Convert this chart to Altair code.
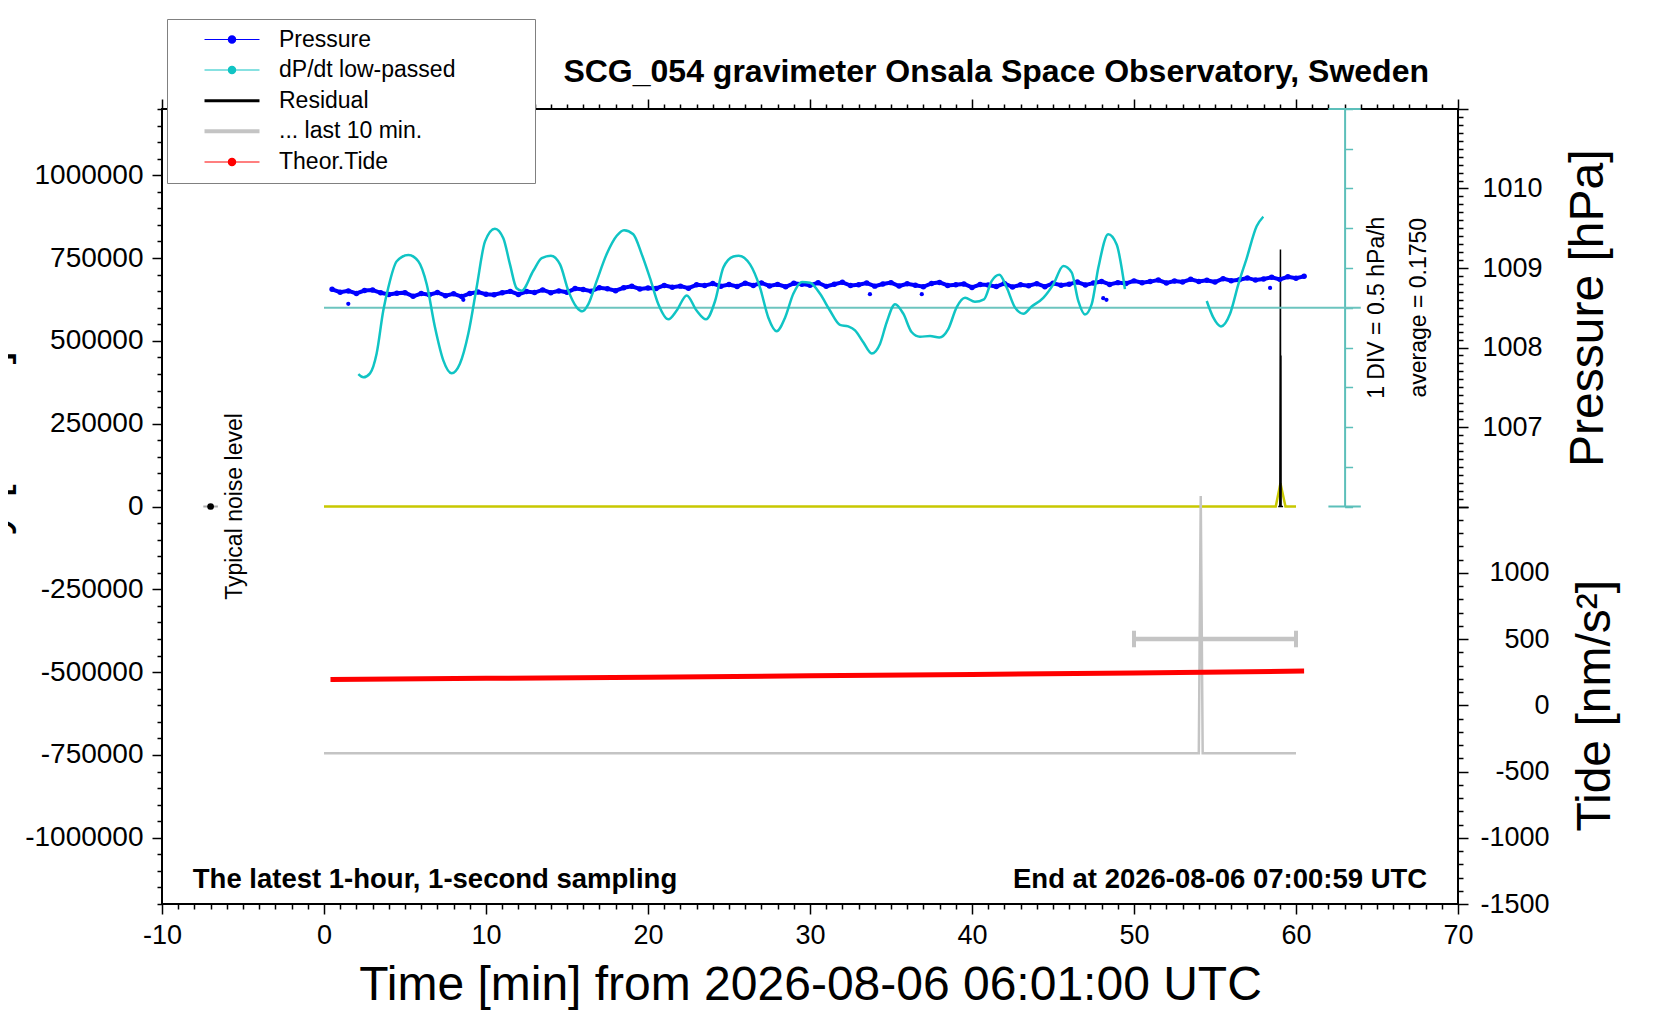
import altair as alt
import pandas as pd

# ---- data (time in minutes from 2026-08-06 06:01:00 UTC) ----
pressure_hpa = [
    1008.732, 1008.695, 1008.712, 1008.680, 1008.716, 1008.722, 1008.688, 1008.668, 1008.682, 1008.690,
    1008.644, 1008.678, 1008.665, 1008.692, 1008.652, 1008.675, 1008.641, 1008.680, 1008.698, 1008.671,
    1008.664, 1008.688, 1008.706, 1008.668, 1008.703, 1008.691, 1008.724, 1008.690, 1008.712, 1008.694,
    1008.741, 1008.729, 1008.708, 1008.752, 1008.738, 1008.715, 1008.751, 1008.770, 1008.736, 1008.748,
    1008.743, 1008.781, 1008.757, 1008.772, 1008.746, 1008.788, 1008.779, 1008.805, 1008.770, 1008.793,
    1008.767, 1008.809, 1008.780, 1008.812, 1008.775, 1008.794, 1008.764, 1008.807, 1008.797, 1008.783,
    1008.814, 1008.769, 1008.796, 1008.820, 1008.780, 1008.789, 1008.810, 1008.772, 1008.799, 1008.816,
    1008.773, 1008.801, 1008.784, 1008.764, 1008.806, 1008.819, 1008.781, 1008.789, 1008.800, 1008.756,
    1008.792, 1008.785, 1008.766, 1008.806, 1008.761, 1008.788, 1008.776, 1008.803, 1008.765, 1008.807,
    1008.784, 1008.797, 1008.823, 1008.787, 1008.810, 1008.831, 1008.793, 1008.816, 1008.806, 1008.838,
    1008.815, 1008.829, 1008.849, 1008.812, 1008.837, 1008.825, 1008.858, 1008.831, 1008.846, 1008.823,
    1008.866, 1008.840, 1008.853, 1008.875, 1008.848, 1008.862, 1008.884, 1008.857, 1008.890, 1008.872,
    1008.895,
]
pressure_t = [0.5 + 0.5 * i for i in range(len(pressure_hpa))]
outlier_t = [1.5, 8.6, 33.7, 36.9, 48.1, 48.3, 58.4]
outlier_hpa = [1008.55, 1008.60, 1008.67, 1008.67, 1008.62, 1008.60, 1008.75]

dpdt_t = [2.12, 2.43, 2.84, 3.25, 3.66, 3.97, 4.49, 5.21, 5.82, 6.34, 6.85, 7.37, 7.88, 8.39,
          8.91, 9.42, 9.94, 10.55, 11.07, 11.48, 11.89, 12.2, 12.92, 13.44, 14.01, 14.57, 15.08,
          15.6, 15.95, 16.32, 16.83, 17.45, 18.07, 18.52, 19.09, 19.61, 20.12, 20.64, 21.26,
          21.77, 22.39, 23.0, 23.58, 24.14, 24.65, 25.27, 25.6, 26.3, 26.91, 27.43, 27.94, 28.46,
          28.97, 29.5, 30.0, 30.62, 31.23, 31.85, 32.36, 32.78, 33.29, 33.81, 34.32, 34.73, 35.25,
          35.76, 36.27, 36.79, 37.41, 37.98, 38.54, 39.05, 39.57, 40.18, 40.74, 41.21, 41.69,
          42.14, 42.65, 43.17, 43.68, 44.4, 45.02, 45.64, 46.15, 46.56, 46.97, 47.39, 47.8, 48.41,
          48.93, 49.44,
          54.49, 54.9, 55.37, 55.93, 56.44, 56.96, 57.57, 57.98]
dpdt_val = [-0.66, -0.70, -0.65, -0.40, 0.14, 0.43, 0.76, 0.84, 0.76, 0.47, -0.07, -0.49, -0.65, -0.53,
            -0.15, 0.43, 1.01, 1.17, 1.05, 0.72, 0.42, 0.39, 0.64, 0.80, 0.83, 0.72, 0.39,
            0.18, 0.13, 0.22, 0.51, 0.85, 1.08, 1.15, 1.10, 0.85, 0.55, 0.22, 0.03,
            0.14, 0.33, 0.14, 0.03, 0.26, 0.68, 0.82, 0.83, 0.72, 0.43, 0.05, -0.12, 0.05,
            0.35, 0.50, 0.49, 0.35, 0.14, -0.04, -0.06, -0.11, -0.26, -0.40, -0.28, -0.01, 0.22,
            0.10, -0.13, -0.19, -0.18, -0.20, -0.09, 0.18, 0.30, 0.25, 0.28, 0.51, 0.59,
            0.43, 0.18, 0.10, 0.19, 0.30, 0.47, 0.70, 0.62, 0.26, 0.09, 0.22, 0.68, 1.10,
            0.97, 0.41,
            0.26, 0.05, -0.06, 0.10, 0.47, 0.80, 1.20, 1.32]
dpdt_seg = ["a"] * 92 + ["b"] * 8
dpdt_avg = 0.175
dpdt_div = 0.5

resid_t = [58.9, 59.0, 59.04, 59.05, 59.07, 59.08, 59.2]
resid_val = [0, 0, 776000, 0, 456000, 0, 0]

filt_t = [0.0, 58.75, 59.04, 59.35, 60.0]
filt_val = [0, 0, 70000, 0, 0]

last10_t = [0.0, 54.0, 54.12, 54.24, 60.0]
last10_val = [-745000, -745000, 32000, -745000, -745000]
window_t = [50, 60]
window_level = -400000

tide_t = [0.4, 10, 20, 30, 40, 50, 60.5]
tide_val = [195, 203, 212, 222, 232, 244, 258]

noise_t = -7
noise_val = 0

legend_names = ["Pressure", "dP/dt low-passed", "Residual", "... last 10 min.", "Theor.Tide"]
legend_colors = ["#0000ff", "#10c4c4", "#000000", "#c4c4c4", "#ff0000"]

# ---- layout ----
W, H = 1296, 795
HALF = H / 2
FONT = "Liberation Sans"
TEAL = "#5cbfba"
GREY = "#c4c4c4"

xs = alt.Scale(domain=[-10, 70], nice=False, zero=False)
left_s = alt.Scale(domain=[-1200000, 1200000], nice=False, zero=False)
pres_s = alt.Scale(domain=[1006, 1011], range=[HALF, 0], nice=False, zero=False)
tide_s = alt.Scale(domain=[-1500, 1500], range=[H, HALF], nice=False, zero=False)
dp_lo = dpdt_avg - 5 * dpdt_div
dp_hi = dpdt_avg + 5 * dpdt_div
dp_s = alt.Scale(domain=[dp_lo, dp_hi], range=[HALF, 0], nice=False, zero=False)


def ticks(test):
    return {"condition": {"test": test, "value": 10}, "value": 5}


def X(field, axis=None):
    return alt.X(field, type="quantitative", scale=xs, axis=axis)


def Y(field, scale, axis=None):
    return alt.Y(field, type="quantitative", scale=scale, axis=axis)


x_bottom = alt.Axis(
    orient="bottom", values=list(range(-10, 71)), tickSize=ticks("datum.value % 10 === 0"),
    labelExpr="datum.value % 10 === 0 ? toString(datum.value) : ''",
    labelPadding=8, title="Time [min] from 2026-08-06 06:01:00 UTC", titlePadding=13,
)
x_top = alt.Axis(orient="top", values=list(range(-10, 71)), tickSize=ticks("datum.value % 10 === 0"),
                 labels=False, title=None)
left_axis = alt.Axis(
    orient="left", values=list(range(-1200000, 1200001, 50000)),
    tickSize=ticks("datum.value % 250000 === 0"),
    labelExpr="datum.value % 250000 === 0 ? toString(datum.value) : ''",
    labelPadding=9, labelFontSize=28, title="Gravity [nm/s²]", titleAngle=270, titlePadding=9,
)
pres_axis = alt.Axis(
    orient="right", values=[round(1006 + 0.1 * i, 1) for i in range(51)],
    tickSize=ticks("abs(datum.value - round(datum.value)) < 0.01"),
    labelExpr="abs(datum.value - round(datum.value)) < 0.01 && datum.value > 1006.5 && datum.value < 1010.5"
              " ? toString(round(datum.value)) : ''",
    labelAlign="right", labelPadding=74, title="Pressure [hPa]", titleAngle=270,
    titleBaseline="top", titlePadding=22,
)
tide_axis = alt.Axis(
    orient="right", values=list(range(-1500, 1501, 100)),
    tickSize=ticks("datum.value % 500 === 0"),
    labelExpr="datum.value % 500 === 0 && datum.value < 1500 ? toString(datum.value) : ''",
    labelAlign="right", labelPadding=81, title="Tide [nm/s²]", titleAngle=270,
    titleBaseline="top", titlePadding=22,
)
dp_axis = alt.Axis(
    orient="right", offset=-(W - 73 * W / 80), values=[round(dp_lo + k * dpdt_div, 3) for k in range(11)],
    labels=False, title=None, domain=True, domainColor=TEAL, domainWidth=2,
    tickColor=TEAL, tickSize=8, tickWidth=1.5,
)

# ---- gravity-scale marks ----
filt_df = pd.DataFrame({"t": filt_t, "v": filt_val})
resid_df = pd.DataFrame({"t": resid_t, "v": resid_val})
last10_df = pd.DataFrame({"t": last10_t, "v": last10_val})
window_df = pd.DataFrame({"t0": [window_t[0]], "t1": [window_t[1]], "v": [window_level]})
cap_df = pd.DataFrame({"t": window_t, "v0": [window_level - 25000] * 2, "v1": [window_level + 25000] * 2})
noise_df = pd.DataFrame({"t": [noise_t], "t0": [noise_t - 0.45], "t1": [noise_t + 0.45], "v": [noise_val],
                         "tx": [noise_t + 1.5], "label": ["Typical noise level"]})
foot_df = pd.DataFrame({"t": [-8.1, 68.1], "v": [-1127600, -1127600],
                        "label": ["The latest 1-hour, 1-second sampling", "End at 2026-08-06 07:00:59 UTC"]})

filt_line = alt.Chart(filt_df).mark_line(color="#c8c800", strokeWidth=2.5).encode(
    x=X("t", x_bottom), y=Y("v", left_s, left_axis))
resid_line = alt.Chart(resid_df).mark_line(color="black", strokeWidth=1.5).encode(
    x=X("t"), y=Y("v", left_s))
last10_line = alt.Chart(last10_df).mark_line(color=GREY, strokeWidth=2.5).encode(
    x=X("t"), y=Y("v", left_s))
window_bar = alt.Chart(window_df).mark_rule(color=GREY, strokeWidth=4.5).encode(
    x=X("t0"), x2="t1", y=Y("v", left_s))
window_caps = alt.Chart(cap_df).mark_rule(color=GREY, strokeWidth=4).encode(
    x=X("t"), y=Y("v0", left_s), y2="v1")
noise_bar = alt.Chart(noise_df).mark_rule(color="#aaaaaa", strokeWidth=2).encode(
    x=X("t0"), x2="t1", y=Y("v", left_s))
noise_dot = alt.Chart(noise_df).mark_circle(color="black", size=45, opacity=1).encode(
    x=X("t"), y=Y("v", left_s))
noise_text = alt.Chart(noise_df).mark_text(angle=270, fontSize=23, align="center", baseline="middle").encode(
    x=X("tx"), y=Y("v", left_s), text="label:N")
foot_left = alt.Chart(foot_df.iloc[[0]]).mark_text(
    fontSize=27.5, fontWeight="bold", align="left", baseline="middle").encode(
    x=X("t"), y=Y("v", left_s), text="label:N")
foot_right = alt.Chart(foot_df.iloc[[1]]).mark_text(
    fontSize=27.5, fontWeight="bold", align="right", baseline="middle").encode(
    x=X("t"), y=Y("v", left_s), text="label:N")

# ---- pressure ----
pres_df = pd.DataFrame({"t": pressure_t, "p": pressure_hpa})
out_df = pd.DataFrame({"t": outlier_t, "p": outlier_hpa})
pres_line = alt.Chart(pres_df).mark_line(color="#0000ff", strokeWidth=4).encode(
    x=X("t"), y=Y("p", pres_s, pres_axis))
pres_pts = alt.Chart(pres_df).mark_circle(color="#0000ff", size=30, opacity=1).encode(
    x=X("t"), y=Y("p", pres_s))
pres_out = alt.Chart(out_df).mark_circle(color="#0000ff", size=18, opacity=1).encode(
    x=X("t"), y=Y("p", pres_s))

# ---- dP/dt ----
dp_df = pd.DataFrame({"t": dpdt_t, "v": dpdt_val, "seg": dpdt_seg})
avg_df = pd.DataFrame({"t0": [0], "t1": [64], "v": [dpdt_avg]})
dcap_df = pd.DataFrame({"t0": [62, 62], "t1": [64, 64], "v": [dp_lo, dp_hi]})
dtext_df = pd.DataFrame({"t": [65.0, 67.6], "v": [dpdt_avg, dpdt_avg],
                         "label": [f"1 DIV = {dpdt_div} hPa/h", f"average = {dpdt_avg:.4f}"]})
dp_line = alt.Chart(dp_df).mark_line(color="#10c4c4", strokeWidth=2.5, interpolate="monotone").encode(
    x=X("t"), y=Y("v", dp_s, dp_axis), detail="seg:N")
avg_rule = alt.Chart(avg_df).mark_rule(color="#6cc4bf", strokeWidth=2).encode(
    x=X("t0"), x2="t1", y=Y("v", dp_s))
dp_caps = alt.Chart(dcap_df).mark_rule(color=TEAL, strokeWidth=2).encode(
    x=X("t0"), x2="t1", y=Y("v", dp_s))
dp_text = alt.Chart(dtext_df).mark_text(angle=270, fontSize=23, align="center", baseline="middle").encode(
    x=X("t"), y=Y("v", dp_s), text="label:N")

# ---- tide (also carries the top tick axis) ----
tide_df = pd.DataFrame({"t": tide_t, "v": tide_val})
tide_line = alt.Chart(tide_df).mark_line(color="#ff0000", strokeWidth=5).encode(
    x=X("t", x_top), y=Y("v", tide_s, tide_axis))

# ---- legend ----
DOT_LINE = "M-2.39,-0.045H2.39V0.045H-2.39Z M0.37,0A0.37,0.37 0 1,1 -0.37,0A0.37,0.37 0 1,1 0.37,0Z"
THICK = "M-2.39,-0.13H2.39V0.13H-2.39Z"
THICKER = "M-2.39,-0.17H2.39V0.17H-2.39Z"
legend_df = pd.DataFrame({"series": legend_names})
legend_layer = alt.Chart(legend_df).mark_point(filled=True, size=529, opacity=0).encode(
    color=alt.Color("series:N", scale=alt.Scale(domain=legend_names, range=legend_colors),
                    legend=alt.Legend(orient="none", legendX=5, legendY=-90, title=None,
                                      fillColor="white", strokeColor="#808080", padding=9,
                                      symbolOffset=44.5, labelOffset=35.5, labelFontSize=23,
                                      labelFont=FONT, labelColor="black", labelLimit=600,
                                      labelExpr="pad(datum.label, 27, '\u00a0') + '\u200b'",
                                      rowPadding=6.6, symbolSize=529, symbolStrokeWidth=0,
                                      cornerRadius=0)),
    shape=alt.Shape("series:N", scale=alt.Scale(domain=legend_names,
                                                range=[DOT_LINE, DOT_LINE, THICK, THICKER, DOT_LINE]),
                    legend=None),
)

chart = alt.layer(
    filt_line, last10_line, window_bar, window_caps, resid_line,
    noise_bar, noise_dot, noise_text, foot_left, foot_right,
    pres_line, pres_pts, pres_out,
    avg_rule, dp_caps, dp_line, dp_text,
    tide_line, legend_layer,
).resolve_scale(
    x="independent", y="independent"
).properties(
    width=W, height=H,
    autosize=alt.AutoSizeParams(type="none"),
    padding={"left": 154, "top": 101, "right": 194, "bottom": 108},
    title=alt.TitleParams("SCG_054 gravimeter Onsala Space Observatory, Sweden", anchor="end",
                          frame="group", font=FONT, fontSize=32, fontWeight="bold", color="black",
                          dx=-29, offset=-70),
).configure(font=FONT).configure_view(stroke="black", strokeWidth=2).configure_axis(
    labelFont=FONT, labelFontSize=27, labelColor="black", titleFont=FONT, titleFontSize=48,
    titleFontWeight="normal", titleColor="black", tickColor="black", tickWidth=1.5,
    domain=False, grid=False, labelOverlap=False, labelFlush=False,
).configure_text(font=FONT, color="black")

chart.save("out.html", embed_options={"renderer": "svg", "actions": False})
